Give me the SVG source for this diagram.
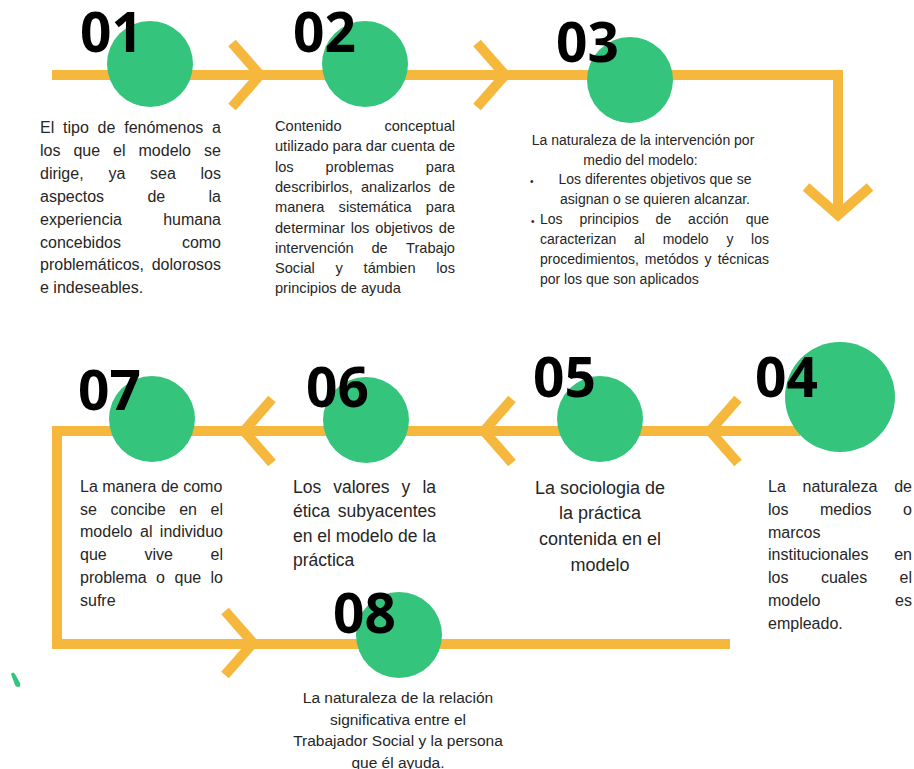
<svg xmlns="http://www.w3.org/2000/svg" xmlns:xlink="http://www.w3.org/1999/xlink" width="914" height="769" viewBox="0 0 914 769">
<style>
.ln{fill:none;stroke:#F5B83D;stroke-width:10;stroke-linejoin:miter;stroke-linecap:butt}
.dot{fill:#34C47C}
.num{font-family:"Open Sans","Liberation Sans",sans-serif;font-weight:700;font-size:55px;fill:#000}
.tx{font-family:"Liberation Sans",Arial,sans-serif;fill:#262626}
.f14{font-size:14px}.f146{font-size:14.6px}.f155{font-size:15.5px}.f16{font-size:16px}.f175{font-size:17.5px}.f18{font-size:18px}
.e{text-anchor:end}.m{text-anchor:middle}
</style>
<defs>
<path id="chev" class="ln" d="M-28,-32 L0,0 L-28,32"/>
</defs>
<rect width="914" height="769" fill="#fff"/>
<g id="connectors">
<path class="ln" d="M52,75 H838 V216"/>
<path class="ln" d="M800,431 H57 V644 H730"/>
<use xlink:href="#chev" href="#chev" transform="translate(260,75)"/>
<use xlink:href="#chev" href="#chev" transform="translate(505,75)"/>
<use xlink:href="#chev" href="#chev" transform="translate(838,215) rotate(90)"/>
<use xlink:href="#chev" href="#chev" transform="translate(710,431) rotate(180)"/>
<use xlink:href="#chev" href="#chev" transform="translate(484,431) rotate(180)"/>
<use xlink:href="#chev" href="#chev" transform="translate(244,431) rotate(180)"/>
<use xlink:href="#chev" href="#chev" transform="translate(253,643)"/>
</g>
<g id="node-01">
<circle class="dot" cx="150" cy="64" r="43"/>
<text class="num" x="80" y="52">01</text>
<text class="tx f16" y="133"><tspan x="40">El</tspan><tspan x="63">tipo</tspan><tspan x="97.6">de</tspan><tspan x="124.2">fenómenos</tspan><tspan class="e" x="221">a</tspan></text>
<text class="tx f16" y="155.9"><tspan x="40">los</tspan><tspan x="73.4">que</tspan><tspan x="113.1">el</tspan><tspan x="138.5">modelo</tspan><tspan class="e" x="221">se</tspan></text>
<text class="tx f16" y="178.8"><tspan x="40">dirige,</tspan><tspan x="108.4">ya</tspan><tspan x="150.1">sea</tspan><tspan class="e" x="221">los</tspan></text>
<text class="tx f16" y="201.7"><tspan x="40">aspectos</tspan><tspan x="147.4">de</tspan><tspan class="e" x="221">la</tspan></text>
<text class="tx f16" y="224.6"><tspan x="40">experiencia</tspan><tspan class="e" x="221">humana</tspan></text>
<text class="tx f16" y="247.5"><tspan x="40">concebidos</tspan><tspan class="e" x="221">como</tspan></text>
<text class="tx f16" y="270.4"><tspan x="40">problemáticos,</tspan><tspan class="e" x="221">dolorosos</tspan></text>
<text class="tx f16" x="40" y="293.3">e indeseables.</text>
</g>
<g id="node-02">
<circle class="dot" cx="365" cy="64" r="43"/>
<text class="num" x="293" y="52">02</text>
<text class="tx f146" y="131"><tspan x="275">Contenido</tspan><tspan class="e" x="455">conceptual</tspan></text>
<text class="tx f146" x="275" y="151.3">utilizado para dar cuenta de</text>
<text class="tx f146" y="171.6"><tspan x="275">los</tspan><tspan x="325.6">problemas</tspan><tspan class="e" x="455">para</tspan></text>
<text class="tx f146" y="191.9"><tspan x="275">describirlos,</tspan><tspan x="361">analizarlos</tspan><tspan class="e" x="455">de</tspan></text>
<text class="tx f146" y="212.2"><tspan x="275">manera</tspan><tspan x="338.6">sistemática</tspan><tspan class="e" x="455">para</tspan></text>
<text class="tx f146" y="232.5"><tspan x="275">determinar</tspan><tspan x="350.7">los</tspan><tspan x="375.3">objetivos</tspan><tspan class="e" x="455">de</tspan></text>
<text class="tx f146" y="252.8"><tspan x="275">intervención</tspan><tspan x="371.5">de</tspan><tspan class="e" x="455">Trabajo</tspan></text>
<text class="tx f146" y="273.1"><tspan x="275">Social</tspan><tspan x="335.6">y</tspan><tspan x="363.6">támbien</tspan><tspan class="e" x="455">los</tspan></text>
<text class="tx f146" x="275" y="293.4">principios de ayuda</text>
</g>
<g id="node-03">
<circle class="dot" cx="630" cy="80" r="43"/>
<text class="num" x="556" y="62">03</text>
<text class="tx f14 m" x="643" y="145">La naturaleza de la intervención por</text>
<text class="tx f14 m" x="640.5" y="165">medio del modelo:</text>
<text class="tx" font-size="10" x="530" y="185">•</text>
<text class="tx f14 m" x="655" y="184">Los diferentes objetivos que se</text>
<text class="tx f14 m" x="655" y="204">asignan o se quieren alcanzar.</text>
<text class="tx" font-size="10" x="531" y="225">•</text>
<text class="tx f14" y="224"><tspan x="540">Los</tspan><tspan x="579.5">principios</tspan><tspan x="655.6">de</tspan><tspan x="688.1">acción</tspan><tspan class="e" x="769">que</tspan></text>
<text class="tx f14" y="244"><tspan x="540">caracterizan</tspan><tspan x="634">al</tspan><tspan x="662.7">modelo</tspan><tspan x="726.4">y</tspan><tspan class="e" x="769">los</tspan></text>
<text class="tx f14" y="264"><tspan x="540">procedimientos,</tspan><tspan x="644.8">metódos</tspan><tspan x="704.5">y</tspan><tspan class="e" x="769">técnicas</tspan></text>
<text class="tx f14" x="540" y="284">por los que son aplicados</text>
</g>
<g id="node-04">
<circle class="dot" cx="840" cy="397" r="55"/>
<text class="num" x="755" y="397">04</text>
<text class="tx f16" y="492"><tspan x="768">La</tspan><tspan x="802.6">naturaleza</tspan><tspan class="e" x="912">de</tspan></text>
<text class="tx f16" y="514.8"><tspan x="768">los</tspan><tspan x="819.9">medios</tspan><tspan class="e" x="912">o</tspan></text>
<text class="tx f16" x="768" y="537.6">marcos</text>
<text class="tx f16" y="560.4"><tspan x="768">institucionales</tspan><tspan class="e" x="912">en</tspan></text>
<text class="tx f16" y="583.2"><tspan x="768">los</tspan><tspan x="820.9">cuales</tspan><tspan class="e" x="912">el</tspan></text>
<text class="tx f16" y="606"><tspan x="768">modelo</tspan><tspan class="e" x="912">es</tspan></text>
<text class="tx f16" x="768" y="628.8">empleado.</text>
</g>
<g id="node-05">
<circle class="dot" cx="600" cy="419" r="43"/>
<text class="num" x="533" y="397">05</text>
<text class="tx f18 m" x="600" y="493.5">La sociologia de</text>
<text class="tx f18 m" x="600" y="519.2">la práctica</text>
<text class="tx f18 m" x="600" y="544.9">contenida en el</text>
<text class="tx f18 m" x="600" y="570.6">modelo</text>
</g>
<g id="node-06">
<circle class="dot" cx="366" cy="420" r="43"/>
<text class="num" x="306" y="407">06</text>
<text class="tx f175" y="493"><tspan x="293">Los</tspan><tspan x="333.2">valores</tspan><tspan x="401.6">y</tspan><tspan class="e" x="436">la</tspan></text>
<text class="tx f175" y="517.3"><tspan x="293">ética</tspan><tspan class="e" x="436">subyacentes</tspan></text>
<text class="tx f175" x="293" y="541.6">en el modelo de la</text>
<text class="tx f175" x="293" y="565.9">práctica</text>
</g>
<g id="node-07">
<circle class="dot" cx="152" cy="419" r="43"/>
<text class="num" x="78" y="410">07</text>
<text class="tx f16" x="80" y="492">La manera de como</text>
<text class="tx f16" y="514.7"><tspan x="80">se</tspan><tspan x="110.5">concibe</tspan><tspan x="179.2">en</tspan><tspan class="e" x="223">el</tspan></text>
<text class="tx f16" y="537.4"><tspan x="80">modelo</tspan><tspan x="140">al</tspan><tspan class="e" x="223">individuo</tspan></text>
<text class="tx f16" y="560.1"><tspan x="80">que</tspan><tspan x="144.4">vive</tspan><tspan class="e" x="223">el</tspan></text>
<text class="tx f16" y="582.8"><tspan x="80">problema</tspan><tspan x="156.1">o</tspan><tspan x="174.5">que</tspan><tspan class="e" x="223">lo</tspan></text>
<text class="tx f16" x="80" y="605.5">sufre</text>
</g>
<g id="node-08">
<circle class="dot" cx="399" cy="635" r="43"/>
<text class="num" x="333" y="633">08</text>
<text class="tx f155 m" x="398" y="702.5">La naturaleza de la relación</text>
<text class="tx f155 m" x="398" y="724.5">significativa entre el</text>
<text class="tx f155 m" x="398" y="746">Trabajador Social y la persona</text>
<text class="tx f155 m" x="398" y="767.5">que él ayuda.</text>
</g>
<path class="dot" d="M11,674 Q13,671 15,674 L20,683 Q21,687 18,687 Q16,687 15,685 Z"/>
</svg>
